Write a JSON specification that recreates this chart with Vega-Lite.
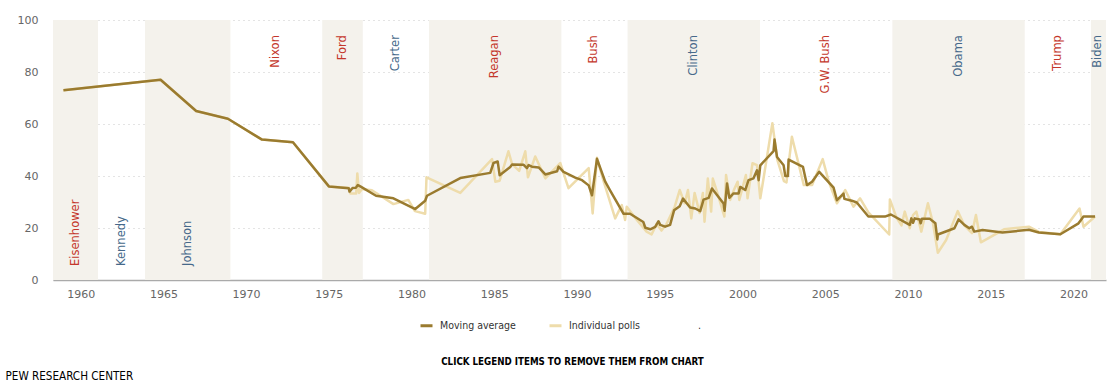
{
  "$schema": "https://vega.github.io/schema/vega-lite/v6.json",
  "width": 1053,
  "height": 260,
  "autosize": {"type": "none"},
  "padding": {"left": 53, "top": 20, "right": 8, "bottom": 112},
  "background": "white",
  "config": {"view": {"stroke": null}, "font": "DejaVu Sans"},
  "datasets": {
    "presidents": [
      {"order": 1, "name": "Eisenhower", "party": "R", "start": 1958.33, "end": 1961.05},
      {"order": 2, "name": "Kennedy", "party": "D", "start": 1961.05, "end": 1963.89},
      {"order": 3, "name": "Johnson", "party": "D", "start": 1963.89, "end": 1969.05},
      {"order": 4, "name": "Nixon", "party": "R", "start": 1969.05, "end": 1974.6},
      {"order": 5, "name": "Ford", "party": "R", "start": 1974.6, "end": 1977.05},
      {"order": 6, "name": "Carter", "party": "D", "start": 1977.05, "end": 1981.05},
      {"order": 7, "name": "Reagan", "party": "R", "start": 1981.05, "end": 1989.05},
      {"order": 8, "name": "Bush", "party": "R", "start": 1989.05, "end": 1993.05},
      {"order": 9, "name": "Clinton", "party": "D", "start": 1993.05, "end": 2001.05},
      {"order": 10, "name": "G.W. Bush", "party": "R", "start": 2001.05, "end": 2009.05},
      {"order": 11, "name": "Obama", "party": "D", "start": 2009.05, "end": 2017.05},
      {"order": 12, "name": "Trump", "party": "R", "start": 2017.05, "end": 2021.05},
      {"order": 13, "name": "Biden", "party": "D", "start": 2021.05, "end": 2021.96}
    ],
    "polls": [
      {"year": 1958.96, "value": 73}, {"year": 1964.83, "value": 77}, {"year": 1966.98, "value": 65},
      {"year": 1968.9, "value": 62}, {"year": 1970.96, "value": 54}, {"year": 1972.83, "value": 53},
      {"year": 1975.0, "value": 36}, {"year": 1976.2, "value": 35.5}, {"year": 1976.3, "value": 33.3},
      {"year": 1976.65, "value": 33.3}, {"year": 1976.72, "value": 41}, {"year": 1976.82, "value": 33.5},
      {"year": 1977.0, "value": 35}, {"year": 1977.6, "value": 34.5}, {"year": 1978.9, "value": 29.2},
      {"year": 1979.8, "value": 30.8}, {"year": 1980.2, "value": 26.5}, {"year": 1980.82, "value": 25.5},
      {"year": 1980.9, "value": 39.5}, {"year": 1982.94, "value": 33.5}, {"year": 1984.86, "value": 46.5},
      {"year": 1985.06, "value": 37.8}, {"year": 1985.32, "value": 38.2}, {"year": 1985.85, "value": 49.5},
      {"year": 1986.07, "value": 44.6}, {"year": 1986.5, "value": 42}, {"year": 1986.87, "value": 49.5},
      {"year": 1987.03, "value": 39.5}, {"year": 1987.47, "value": 47.5}, {"year": 1988.08, "value": 39.1},
      {"year": 1988.98, "value": 45}, {"year": 1989.48, "value": 35.3}, {"year": 1990.7, "value": 43},
      {"year": 1990.94, "value": 25.6}, {"year": 1991.2, "value": 47}, {"year": 1991.6, "value": 38},
      {"year": 1992.3, "value": 23.7}, {"year": 1992.7, "value": 28.8}, {"year": 1992.9, "value": 23.1},
      {"year": 1993.0, "value": 28.2}, {"year": 1993.5, "value": 24}, {"year": 1994.2, "value": 18.6},
      {"year": 1994.5, "value": 17.5}, {"year": 1994.8, "value": 21.5}, {"year": 1995.1, "value": 19},
      {"year": 1995.4, "value": 21.5}, {"year": 1995.9, "value": 28.2}, {"year": 1996.2, "value": 34.6},
      {"year": 1996.5, "value": 29.5}, {"year": 1996.7, "value": 34.6}, {"year": 1996.9, "value": 23.7},
      {"year": 1997.1, "value": 33.5}, {"year": 1997.4, "value": 25.8}, {"year": 1997.6, "value": 33.5},
      {"year": 1997.7, "value": 22.4}, {"year": 1997.9, "value": 39}, {"year": 1998.1, "value": 26.3},
      {"year": 1998.2, "value": 39}, {"year": 1998.5, "value": 33}, {"year": 1998.9, "value": 24.4},
      {"year": 1999.0, "value": 40.4}, {"year": 1999.25, "value": 30.8}, {"year": 1999.5, "value": 35},
      {"year": 1999.7, "value": 37.8}, {"year": 1999.8, "value": 30.8}, {"year": 2000.2, "value": 40.4},
      {"year": 2000.3, "value": 31.4}, {"year": 2000.6, "value": 44.9}, {"year": 2000.87, "value": 44.2},
      {"year": 2001.07, "value": 31.4}, {"year": 2001.8, "value": 60.3}, {"year": 2002.1, "value": 46.2},
      {"year": 2002.5, "value": 38}, {"year": 2002.65, "value": 37.5}, {"year": 2002.98, "value": 55.1},
      {"year": 2003.7, "value": 36.5}, {"year": 2004.2, "value": 36.5}, {"year": 2004.84, "value": 46.5},
      {"year": 2005.2, "value": 38}, {"year": 2005.7, "value": 29.5}, {"year": 2006.2, "value": 34.6},
      {"year": 2006.7, "value": 28.2}, {"year": 2007.1, "value": 31.4}, {"year": 2007.6, "value": 26},
      {"year": 2008.86, "value": 17.5}, {"year": 2008.9, "value": 31}, {"year": 2009.3, "value": 24},
      {"year": 2009.6, "value": 21}, {"year": 2009.8, "value": 26.3}, {"year": 2010.1, "value": 19.9},
      {"year": 2010.3, "value": 25}, {"year": 2010.5, "value": 26.3}, {"year": 2010.8, "value": 18.6},
      {"year": 2011.2, "value": 29.5}, {"year": 2011.5, "value": 22}, {"year": 2011.8, "value": 10.5},
      {"year": 2012.3, "value": 15.4}, {"year": 2013.0, "value": 26.5}, {"year": 2013.4, "value": 21},
      {"year": 2013.86, "value": 18}, {"year": 2014.1, "value": 25}, {"year": 2014.4, "value": 14.5},
      {"year": 2015.8, "value": 19.5}, {"year": 2017.3, "value": 20.5}, {"year": 2017.9, "value": 18.5},
      {"year": 2019.2, "value": 17.6}, {"year": 2020.36, "value": 27.5}, {"year": 2020.6, "value": 20.5},
      {"year": 2021.3, "value": 24.4}
    ],
    "average": [
      {"year": 1958.96, "value": 73}, {"year": 1964.83, "value": 77}, {"year": 1966.98, "value": 65},
      {"year": 1968.9, "value": 62}, {"year": 1970.96, "value": 54}, {"year": 1972.83, "value": 53},
      {"year": 1975.0, "value": 36}, {"year": 1976.2, "value": 35.3}, {"year": 1976.25, "value": 34},
      {"year": 1976.43, "value": 35.4}, {"year": 1976.63, "value": 35.5}, {"year": 1976.75, "value": 36.5},
      {"year": 1976.9, "value": 36}, {"year": 1977.85, "value": 32.4}, {"year": 1978.9, "value": 31.4},
      {"year": 1980.22, "value": 27.3}, {"year": 1980.82, "value": 30.5}, {"year": 1980.93, "value": 32.4},
      {"year": 1982.94, "value": 39.2}, {"year": 1984.75, "value": 41.2}, {"year": 1984.95, "value": 45},
      {"year": 1985.2, "value": 45.6}, {"year": 1985.32, "value": 40.3}, {"year": 1985.96, "value": 43.5},
      {"year": 1986.07, "value": 44.4}, {"year": 1986.77, "value": 44.3}, {"year": 1986.97, "value": 43},
      {"year": 1987.07, "value": 44.2}, {"year": 1987.27, "value": 43.6}, {"year": 1987.68, "value": 43.3},
      {"year": 1988.08, "value": 40.6}, {"year": 1988.79, "value": 41.8}, {"year": 1988.88, "value": 43.6},
      {"year": 1989.18, "value": 41.6}, {"year": 1989.89, "value": 39.4}, {"year": 1990.3, "value": 38.4},
      {"year": 1990.7, "value": 36.4}, {"year": 1990.9, "value": 32.6}, {"year": 1991.2, "value": 46.6},
      {"year": 1991.7, "value": 37.8}, {"year": 1992.0, "value": 34.4}, {"year": 1992.8, "value": 25.5},
      {"year": 1993.2, "value": 25.5}, {"year": 1994.0, "value": 22.3}, {"year": 1994.12, "value": 20.1},
      {"year": 1994.42, "value": 19.5}, {"year": 1994.72, "value": 20.4}, {"year": 1994.92, "value": 22.6},
      {"year": 1995.02, "value": 21.2}, {"year": 1995.32, "value": 20.5}, {"year": 1995.62, "value": 21.2},
      {"year": 1995.86, "value": 26.8}, {"year": 1996.2, "value": 28.4}, {"year": 1996.4, "value": 31.3},
      {"year": 1996.83, "value": 27.9}, {"year": 1997.14, "value": 27.5}, {"year": 1997.44, "value": 26.5},
      {"year": 1997.64, "value": 30.9}, {"year": 1997.95, "value": 31.6}, {"year": 1998.15, "value": 35.2},
      {"year": 1998.85, "value": 29.4}, {"year": 1998.91, "value": 26.6}, {"year": 1999.06, "value": 37.1},
      {"year": 1999.2, "value": 31.6}, {"year": 1999.45, "value": 33.3}, {"year": 1999.76, "value": 33.3},
      {"year": 1999.86, "value": 35.8}, {"year": 2000.16, "value": 34.6}, {"year": 2000.36, "value": 38.4},
      {"year": 2000.66, "value": 39.1}, {"year": 2000.87, "value": 42.2}, {"year": 2000.97, "value": 38.4},
      {"year": 2001.07, "value": 44.1}, {"year": 2001.87, "value": 49.6}, {"year": 2001.93, "value": 54},
      {"year": 2002.08, "value": 47.3}, {"year": 2002.48, "value": 44.1}, {"year": 2002.58, "value": 40},
      {"year": 2002.74, "value": 40}, {"year": 2002.78, "value": 46.3}, {"year": 2003.65, "value": 43.5},
      {"year": 2003.89, "value": 36.5}, {"year": 2004.2, "value": 37.8}, {"year": 2004.63, "value": 41.6},
      {"year": 2005.5, "value": 35.5}, {"year": 2005.7, "value": 30.7}, {"year": 2005.9, "value": 32},
      {"year": 2006.1, "value": 33.2}, {"year": 2006.15, "value": 31.2}, {"year": 2006.6, "value": 30.5},
      {"year": 2006.9, "value": 29.8}, {"year": 2007.6, "value": 24.4}, {"year": 2008.6, "value": 24.4},
      {"year": 2008.96, "value": 25.2}, {"year": 2010.1, "value": 21.2}, {"year": 2010.2, "value": 23.7},
      {"year": 2010.3, "value": 22}, {"year": 2010.4, "value": 23.7}, {"year": 2010.7, "value": 23.3},
      {"year": 2010.76, "value": 21.8}, {"year": 2010.84, "value": 23.6}, {"year": 2011.3, "value": 23.6},
      {"year": 2011.65, "value": 21.8}, {"year": 2011.77, "value": 15.6}, {"year": 2011.8, "value": 17.5},
      {"year": 2012.8, "value": 19.9}, {"year": 2013.05, "value": 23.3}, {"year": 2013.4, "value": 21.2},
      {"year": 2013.7, "value": 19.9}, {"year": 2013.86, "value": 20.5}, {"year": 2014.0, "value": 18.6},
      {"year": 2014.5, "value": 19.2}, {"year": 2015.7, "value": 18.3}, {"year": 2017.3, "value": 19.3},
      {"year": 2017.9, "value": 18.3}, {"year": 2019.2, "value": 17.6}, {"year": 2020.3, "value": 21.8},
      {"year": 2020.6, "value": 24.4}, {"year": 2021.3, "value": 24.4}
    ]
  },
  "layer": [
    {
      "data": {"name": "presidents"},
      "transform": [{"filter": "datum.order % 2 == 1"}],
      "mark": {"type": "rect", "color": "#f4f2ec"},
      "encoding": {
        "x": {
          "field": "start", "type": "quantitative",
          "scale": {"domain": [1958.33, 2021.96], "nice": false, "zero": false},
          "axis": {
            "values": [1960, 1965, 1970, 1975, 1980, 1985, 1990, 1995, 2000, 2005, 2010, 2015, 2020],
            "format": "d", "grid": false, "ticks": false, "domainColor": "#aaaaaa", "domainWidth": 1.5,
            "labelColor": "#666666", "labelFontSize": 11, "labelPadding": 8, "labelFont": "DejaVu Sans",
            "title": "CLICK LEGEND ITEMS TO REMOVE THEM FROM CHART",
            "titleFont": "DejaVu Sans Condensed, Liberation Sans, sans-serif", "titleFontWeight": "bold", "titleFontSize": 9.7,
            "titleColor": "#000000", "titleX": 519, "titleY": 81, "titleBaseline": "middle", "titleAlign": "center"
          }
        },
        "x2": {"field": "end"}
      }
    },
    {
      "data": {"name": "polls"},
      "mark": {"type": "line", "strokeWidth": 2.5, "strokeJoin": "round"},
      "encoding": {
        "x": {"field": "year", "type": "quantitative"},
        "y": {
          "field": "value", "type": "quantitative",
          "scale": {"domain": [0, 100], "nice": false},
          "axis": {
            "values": [0, 20, 40, 60, 80, 100], "grid": true, "gridDash": [1, 4], "gridColor": "#c8c8c8",
            "domain": false, "ticks": false, "labelPadding": 15, "labelColor": "#666666", "labelFontSize": 11,
            "labelFont": "DejaVu Sans",
            "title": "PEW RESEARCH CENTER", "titleAngle": 0, "titleX": -48, "titleY": 359,
            "titleAlign": "left", "titleBaseline": "alphabetic", "titleFont": "DejaVu Sans Condensed, Liberation Sans, sans-serif",
            "titleFontSize": 11.6, "titleFontWeight": "normal", "titleColor": "#000000"
          }
        },
        "color": {
          "datum": "Individual polls",
          "scale": {"domain": ["Moving average", "Individual polls", "."], "range": ["#9a7b2f", "#eedcab", "transparent"]},
          "legend": {
            "orient": "none", "legendX": 366, "legendY": 298, "direction": "horizontal", "columns": 3,
            "gridAlign": "all", "columnPadding": 27, "symbolType": "stroke", "symbolStrokeWidth": 3,
            "symbolSize": 144, "labelOffset": 6, "labelFont": "DejaVu Sans Condensed, Liberation Sans, sans-serif", "labelFontSize": 10.5,
            "labelColor": "#333333", "title": null
          }
        }
      }
    },
    {
      "data": {"name": "average"},
      "mark": {"type": "line", "strokeWidth": 2.5, "strokeJoin": "round"},
      "encoding": {
        "x": {"field": "year", "type": "quantitative"},
        "y": {"field": "value", "type": "quantitative"},
        "color": {"datum": "Moving average"}
      }
    },
    {
      "data": {"name": "presidents"},
      "transform": [{"filter": "datum.order <= 3"}, {"calculate": "(datum.start + datum.end) / 2", "as": "mid"}],
      "mark": {"type": "text", "angle": 270, "align": "left", "baseline": "middle", "fontSize": 11.5, "font": "DejaVu Sans"},
      "encoding": {
        "x": {"field": "mid", "type": "quantitative"},
        "y": {"datum": 5.4, "type": "quantitative"},
        "text": {"field": "name"},
        "color": {"condition": {"test": "datum.party == 'R'", "value": "#c4372b"}, "value": "#46698a"}
      }
    },
    {
      "data": {"name": "presidents"},
      "transform": [{"filter": "datum.order > 3"}, {"calculate": "(datum.start + datum.end) / 2", "as": "mid"}],
      "mark": {"type": "text", "angle": 270, "align": "right", "baseline": "middle", "fontSize": 11.5, "font": "DejaVu Sans"},
      "encoding": {
        "x": {"field": "mid", "type": "quantitative"},
        "y": {"datum": 94.2, "type": "quantitative"},
        "text": {"field": "name"},
        "color": {"condition": {"test": "datum.party == 'R'", "value": "#c4372b"}, "value": "#46698a"}
      }
    }
  ]
}
